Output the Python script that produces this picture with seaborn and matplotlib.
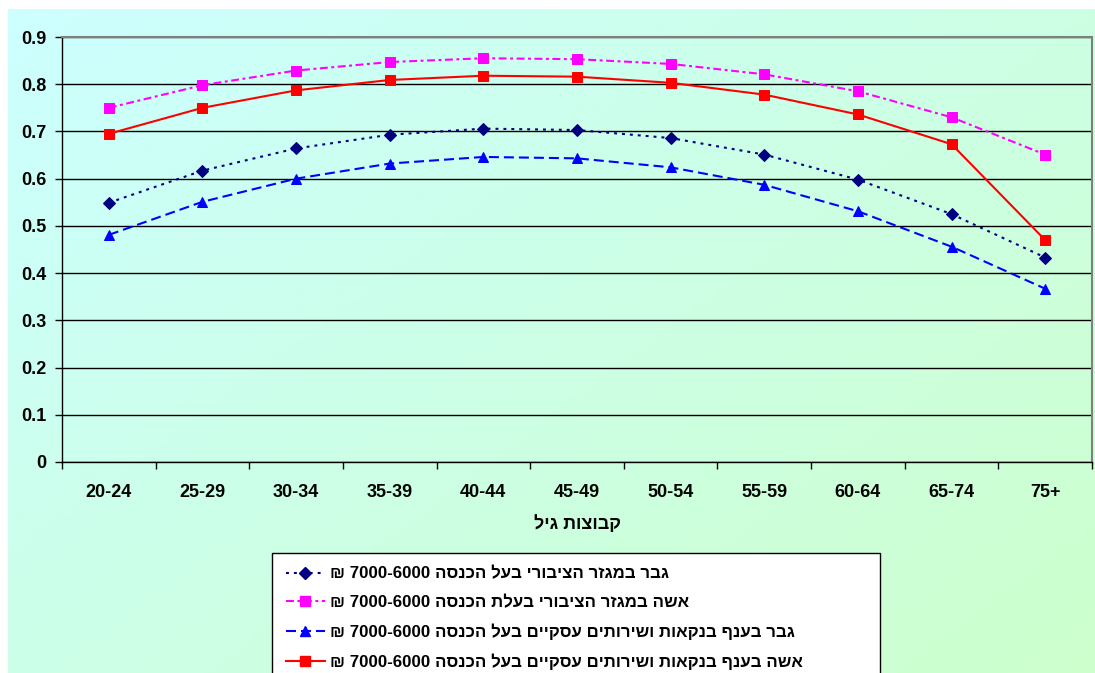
import numpy as np
import pandas as pd
import matplotlib
matplotlib.use("Agg")
import matplotlib.pyplot as plt
import seaborn as sns
from matplotlib.lines import Line2D
from matplotlib.font_manager import FontProperties

categories = ["20-24", "25-29", "30-34", "35-39", "40-44", "45-49",
              "50-54", "55-59", "60-64", "65-74", "75+"]

man_public = [0.549, 0.617, 0.664, 0.693, 0.706, 0.703, 0.686, 0.651, 0.598, 0.525, 0.433]
woman_public = [0.750, 0.798, 0.829, 0.847, 0.855, 0.853, 0.843, 0.821, 0.785, 0.730, 0.651]
man_bank = [0.481, 0.551, 0.600, 0.632, 0.646, 0.643, 0.624, 0.587, 0.531, 0.456, 0.367]
woman_bank = [0.695, 0.750, 0.787, 0.809, 0.818, 0.816, 0.803, 0.778, 0.736, 0.673, 0.470]

y_ticks = [0, 0.1, 0.2, 0.3, 0.4, 0.5, 0.6, 0.7, 0.8, 0.9]
y_tick_labels = ["0", "0.1", "0.2", "0.3", "0.4", "0.5", "0.6", "0.7", "0.8", "0.9"]


def vis(heb):
    # visual (left-to-right) order for right-to-left Hebrew text
    return heb[::-1]


labels = [
    "₪ 7000-6000 " + vis("גבר במגזר הציבורי בעל הכנסה"),
    "₪ 7000-6000 " + vis("אשה במגזר הציבורי בעלת הכנסה"),
    "₪ 7000-6000 " + vis("גבר בענף בנקאות ושירותים עסקיים בעל הכנסה"),
    "₪ 7000-6000 " + vis("אשה בענף בנקאות ושירותים עסקיים בעל הכנסה"),
]
x_title = vis("קבוצות גיל")

FAM = ["Liberation Sans", "DejaVu Sans"]
plt.rcParams["font.family"] = FAM
plt.rcParams["font.weight"] = "bold"

fp_tick = FontProperties(family=FAM, weight="bold", size=13)
fp_leg = FontProperties(family=FAM, weight="bold", size=12.2)
fp_title = FontProperties(family=FAM, weight="bold", size=13)

W, H = 1095, 673
fig = plt.figure(figsize=(W / 100, H / 100), dpi=100)
fig.patch.set_facecolor("white")

# gradient background
bg = fig.add_axes([8 / W, 0, 1 - 8 / W, 1 - 9 / H], zorder=-10)
nx, ny = 200, 200
xx, yy = np.meshgrid(np.linspace(0, 1, nx), np.linspace(0, 1, ny))
t = np.clip((xx * 0.55 + yy * 0.45), 0, 1)
c0 = np.array([0xCC, 0xFF, 0xFF]) / 255.0
c1 = np.array([0xCC, 0xFF, 0xCC]) / 255.0
img = c0[None, None, :] * (1 - t[..., None]) + c1[None, None, :] * t[..., None]
bg.imshow(img, aspect="auto", extent=[0, 1, 0, 1], origin="upper")
bg.set_axis_off()

ax = fig.add_axes([62 / W, (H - 462) / H, (1092 - 62) / W, (462 - 37) / H])
ax.set_facecolor("none")

df = pd.DataFrame({"cat": categories, "mp": man_public, "wp": woman_public,
                   "mb": man_bank, "wb": woman_bank})
xpos = np.arange(len(categories))
df["x"] = xpos

specs = [
    ("mp", "#000080", (0, (1.4, 2.4)), "D", 6.0),
    ("wp", "#FF00FF", (0, (3.8, 1.7, 1.4, 1.7)), "s", 6.5),
    ("mb", "#0000FF", (0, (4.8, 2.4)), "^", 7.0),
    ("wb", "#FF0000", "-", "s", 6.5),
]
handles = []
for (col, color, ls, mk, ms), lab in zip(specs, labels):
    sns.lineplot(data=df, x="x", y=col, ax=ax, color=color, linestyle=ls,
                 linewidth=1.5, marker=mk, markersize=ms, markeredgecolor=color,
                 markerfacecolor=color, zorder=3)
    handles.append(Line2D([0], [0], color=color, linestyle=ls, linewidth=1.5,
                          marker=mk, markersize=ms, markeredgecolor=color,
                          markerfacecolor=color))

ax.set_xlim(-0.5, len(categories) - 0.5)
ax.set_ylim(0, 0.9)
ax.set_yticks(y_ticks)
ax.set_yticklabels(y_tick_labels, fontproperties=fp_tick)
ax.set_xticks(xpos)
ax.set_xticklabels(categories, fontproperties=fp_tick)
ax.set_xticks(np.arange(-0.5, len(categories)), minor=True)
ax.tick_params(axis="x", which="major", length=0, pad=16)
ax.tick_params(axis="x", which="minor", length=5, width=1, color="black", direction="out", bottom=True)
ax.tick_params(axis="y", which="major", length=5, width=1, color="black", direction="out",
               left=True, pad=6)
ax.tick_params(axis="y", which="minor", left=False)

ax.yaxis.grid(True, color="black", linewidth=1)
ax.xaxis.grid(False)
ax.set_axisbelow(True)
for s in ["top", "right"]:
    ax.spines[s].set_visible(True)
    ax.spines[s].set_color("#808080")
    ax.spines[s].set_linewidth(1.5)
for s in ["left", "bottom"]:
    ax.spines[s].set_color("black")
    ax.spines[s].set_linewidth(1)

ax.set_xlabel(x_title, fontproperties=fp_title, labelpad=10)
ax.set_ylabel("")
if ax.get_legend() is not None:
    ax.get_legend().remove()

x0, x1 = 272 / W, 880 / W
y_top = 1 - 553 / H
leg = fig.legend(handles, labels, loc="upper left",
                 bbox_to_anchor=(x0, y_top - 0.2, x1 - x0, 0.2), mode="expand",
                 bbox_transform=fig.transFigure,
                 frameon=True, fancybox=False, edgecolor="black", facecolor="white",
                 framealpha=1, handlelength=2.3, handletextpad=0.3, labelspacing=0.8,
                 borderpad=0.8, borderaxespad=0, prop=fp_leg)
leg.get_frame().set_linewidth(1)

fig.savefig("out.png", dpi=100, facecolor=fig.get_facecolor())
